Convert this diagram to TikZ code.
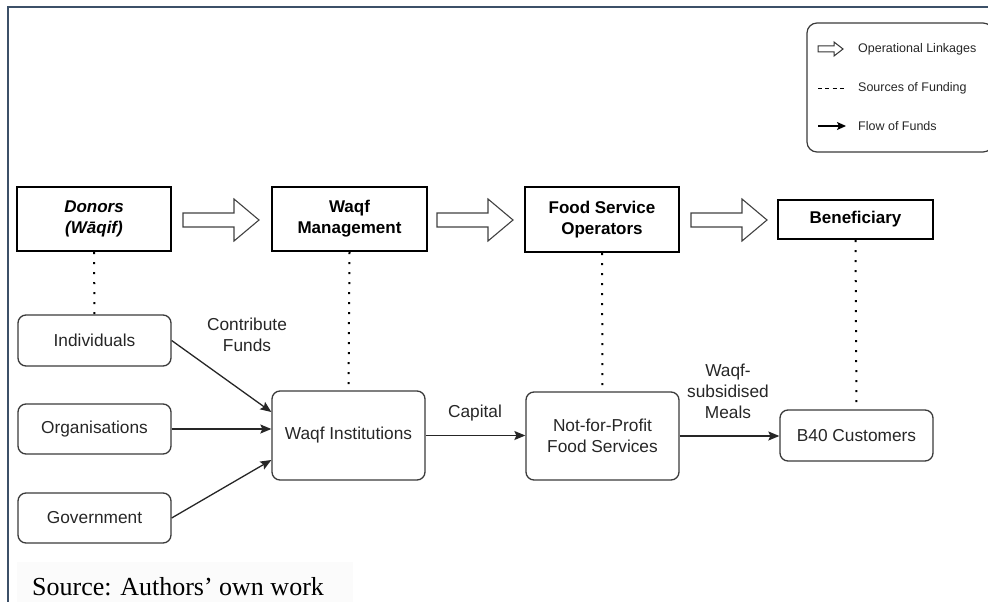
\documentclass[tikz,border=0pt]{standalone}
\usepackage{fontspec}
\setmainfont{Liberation Sans}
\newfontfamily\srcfont{Liberation Serif}
\usetikzlibrary{arrows.meta,calc}
\definecolor{framecol}{HTML}{3C5068}
\definecolor{boxline}{HTML}{3A3A3A}
\definecolor{srcbg}{HTML}{FBFBFB}
\tikzset{
  headbox/.style={draw=black, line width=2.4pt, inner sep=0pt, align=center, font=\fontsize{17}{21}\selectfont\bfseries},
  entbox/.style={draw=boxline, line width=1.3pt, rounded corners=8pt, inner sep=0pt, align=center, font=\fontsize{17.3}{21}\selectfont, text=black!85},
  flow/.style={draw=black!85, line width=1.3pt, -{Stealth[length=11pt,width=9pt,inset=2pt]}},
  fundline/.style={draw=black, line width=2pt, dash pattern=on 2pt off 8pt},
  lbl/.style={align=center, inner sep=0pt, font=\fontsize{17.3}{21}\selectfont, text=black!85},
  legtext/.style={anchor=west, inner sep=0pt, font=\fontsize{12.5}{14}\selectfont, text=black!85},
  oparrow/.pic={
    \draw[line width=1.1pt, draw=black!75] (0,-7) -- (51,-7) -- (51,-21) -- (76,0) -- (51,21) -- (51,7) -- (0,7) -- cycle;
  },
  smallop/.pic={
    \draw[line width=1pt, draw=black!80] (0,-3) -- (16,-3) -- (16,-7) -- (25,0) -- (16,7) -- (16,3) -- (0,3) -- cycle;
  }
}
\begin{document}
\begin{tikzpicture}[x=1pt,y=-1pt]
\useasboundingbox (0,0) rectangle (988,602);
% frame
\draw[framecol, line width=1.5pt] (8,602) -- (8,7) -- (990,7);
% legend
\node[draw=boxline, line width=1.2pt, rounded corners=10pt, minimum width=186pt, minimum height=129pt, inner sep=0pt] (legend) at (900,87.5) {};
\pic at (818,49) {smallop};
\coordinate (ld1) at (818,88);
\coordinate (ld2) at (844,88);
\draw[black, line width=1pt, dash pattern=on 4pt off 3.3pt] (ld1) -- (ld2);
\coordinate (lf1) at (818,126);
\coordinate (lf2) at (846,126);
\draw[black, line width=1.3pt, -{Stealth[length=9pt,width=8pt,inset=2pt]}] (lf1) -- (lf2);
\node[legtext] (lt1) at (858,49) {Operational Linkages};
\node[legtext] (lt2) at (858,88) {Sources of Funding};
\node[legtext] (lt3) at (858,126) {Flow of Funds};
% header boxes
\node[headbox, minimum width=154pt, minimum height=64pt] (donors) at (94,219) {\itshape Donors\\\itshape (Wāqif)};
\node[headbox, minimum width=155pt, minimum height=64pt] (wm) at (349.5,219) {Waqf\\Management};
\node[headbox, minimum width=154pt, minimum height=65pt] (fso) at (602,219.5) {Food Service\\Operators};
\node[headbox, minimum width=155pt, minimum height=39pt] (ben) at (855.5,219.5) {Beneficiary};
% operational arrows
\pic at (183,220) {oparrow};
\pic at (437,220) {oparrow};
\pic at (691,220) {oparrow};
% entity boxes
\node[entbox, minimum width=153pt, minimum height=51pt] (ind) at (94.5,340.5) {Individuals};
\node[entbox, minimum width=153pt, minimum height=50pt] (org) at (94.5,429) {Organisations};
\node[entbox, minimum width=153pt, minimum height=50pt] (gov) at (94.5,518) {Government};
\node[entbox, minimum width=153pt, minimum height=89pt] (wi) at (348.5,435.5) {Waqf Institutions};
\node[entbox, minimum width=153pt, minimum height=88pt] (nfp) at (602.5,436) {Not-for-Profit\\Food Services};
\node[entbox, minimum width=153pt, minimum height=51pt] (b40) at (856.5,435.5) {B40 Customers};
% sources of funding (dotted)
\draw[fundline] (donors.south) -- (ind.north);
\draw[fundline] (wm.south) -- (wi.north);
\draw[fundline] (fso.south) -- (nfp.north);
\draw[fundline] (ben.south) -- (b40.north);
% flow of funds
\draw[flow] (ind.east) -- ([yshift=23.5pt]wi.west);
\draw[flow] (org.east) -- (org.east -| wi.west);
\draw[flow] (gov.east) -- ([yshift=-24.5pt]wi.west);
\draw[flow] (wi.east) -- (wi.east -| nfp.west);
\draw[flow] (nfp.east) -- (nfp.east -| b40.west);
% labels
\node[lbl] (lcontrib) at (247,334.5) {Contribute\\Funds};
\node[lbl] (lcap) at (475,413) {Capital};
\node[lbl] (lmeals) at (728,391) {Waqf-\\subsidised\\Meals};
% source
\fill[srcbg] (17,562) rectangle (353,602);
\node[anchor=base west, inner sep=0pt, font=\srcfont\fontsize{26}{30}\selectfont, text=black] (src) at (32,595) {Source: Authors’ own work};
\end{tikzpicture}
\end{document}
